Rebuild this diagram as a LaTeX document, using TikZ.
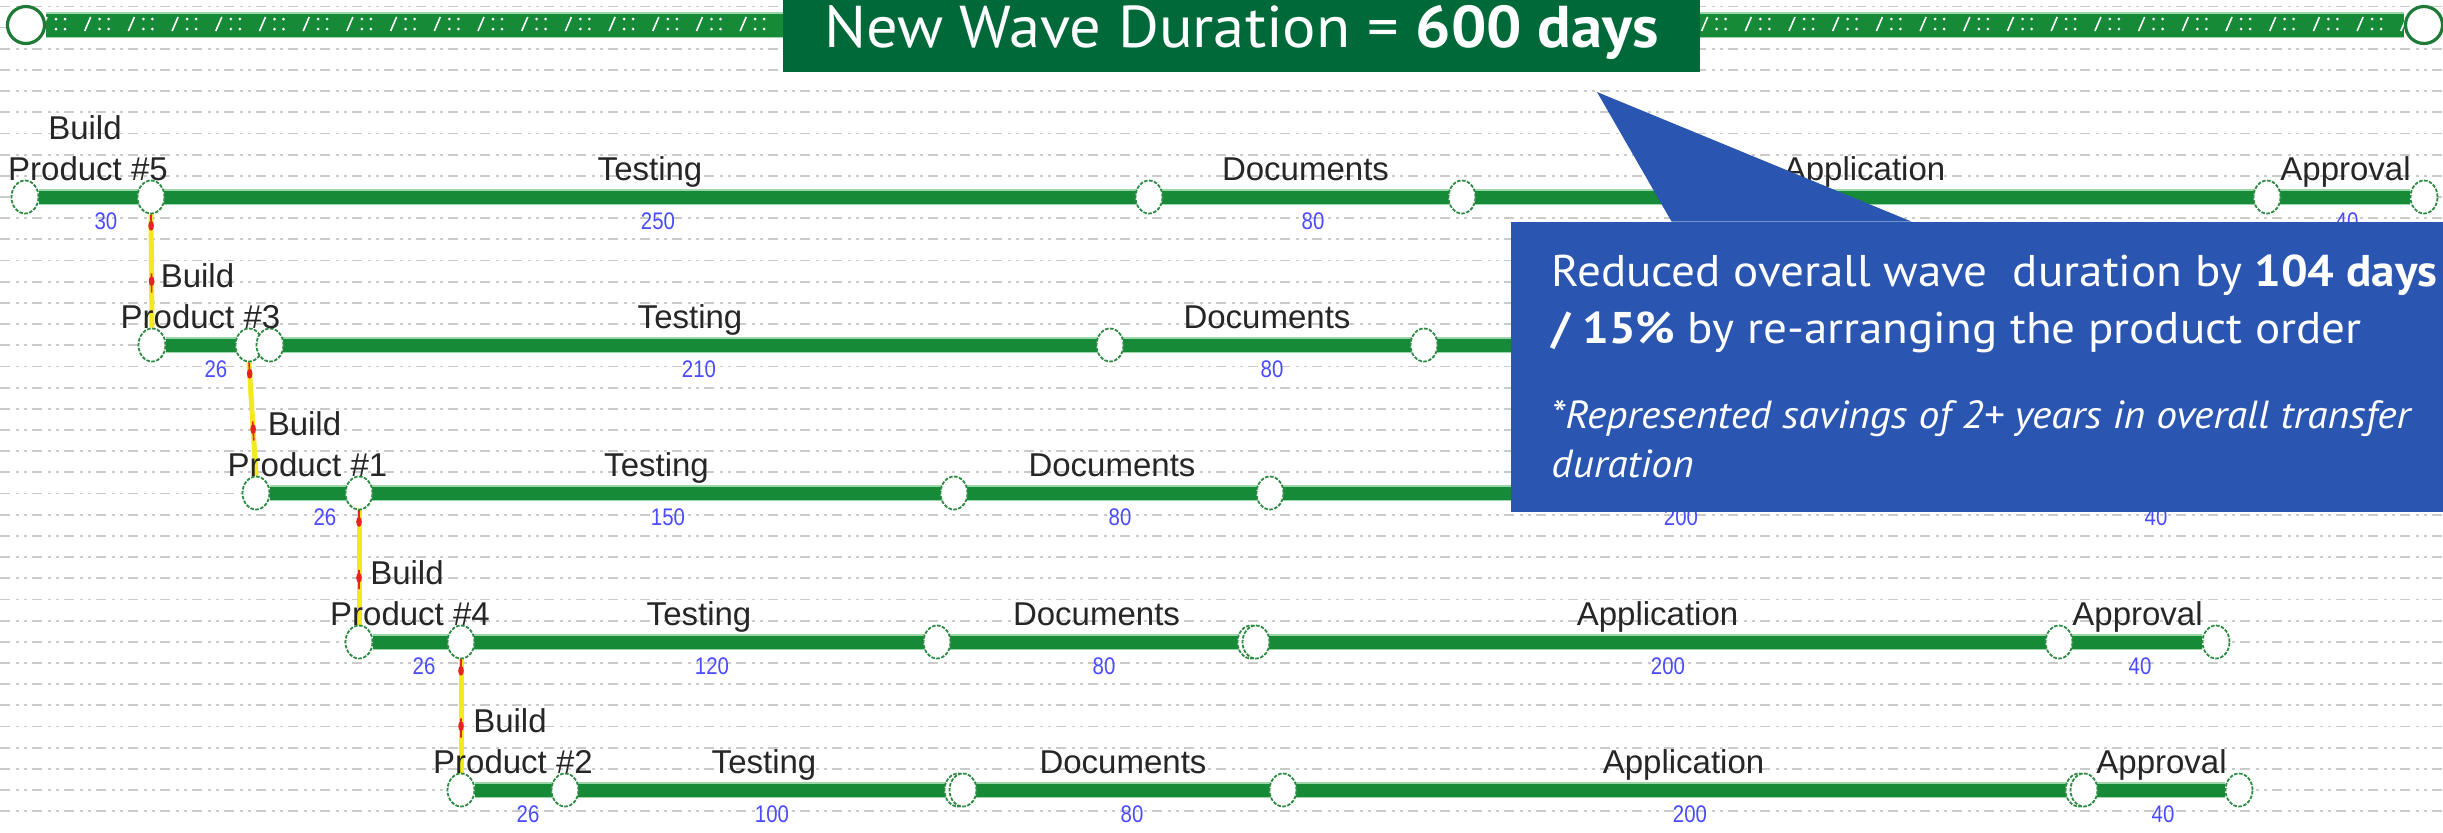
\documentclass[tikz,border=0pt]{standalone}
\usepackage{fontspec}
\usetikzlibrary{shapes.geometric,calc}
\newfontfamily\lblfont{Liberation Sans}
\newfontfamily\numfont[FakeStretch=0.85]{Liberation Sans}
\newfontfamily\calfont[FakeStretch=1.06]{PT Sans}
\definecolor{bargreen}{HTML}{168A37}
\definecolor{baredge}{HTML}{9AD6A8}
\definecolor{milegreen}{HTML}{2E8A45}
\definecolor{endgreen}{HTML}{1E7A36}
\definecolor{titlegreen}{HTML}{00693A}
\definecolor{callblue}{HTML}{2A55B0}
\definecolor{numblue}{HTML}{4B4BFF}
\definecolor{gridgray}{HTML}{CACACA}
\definecolor{linkyellow}{HTML}{F2EA1E}
\definecolor{linkred}{HTML}{E8231C}
\pgfdeclarelayer{grid}
\pgfdeclarelayer{bars}
\pgfdeclarelayer{front}
\pgfsetlayers{grid,bars,main,front}
% build-to-build dependency link between two milestones
\newcommand\prodlink[3]{%
  \draw[linkline] (#1.south) -- (#2.north);
  \draw[redcore] (#1.south) -- ($(#1.south)!.12!(#2.north)$);
  \draw[redcore] ($(#1.south)!.52!(#2.north)$) -- ($(#1.south)!.69!(#2.north)$);
  \path (#1.south) -- (#2.north)
    node[reddot,pos=.10] (#3a) {}
    node[reddot,pos=.59] (#3b) {};
}
\begin{document}
\begin{tikzpicture}[x=0.5pt,y=-0.5pt,
  gridline/.style={draw=gridgray,line width=0.9pt,
    dash pattern=on 5pt off 3pt on 1.5pt off 2.5pt on 1.5pt off 2.5pt},
  taskbar/.style={draw=bargreen,line width=6.5pt},
  taskedge/.style={draw=baredge,line width=7.6pt},
  topbar/.style={draw=bargreen,line width=11.5pt},
  topedge/.style={draw=baredge,line width=12.6pt},
  mile/.style={ellipse,minimum width=13.5pt,minimum height=16.5pt,inner sep=0pt,
    draw=milegreen,line width=0.9pt,dash pattern=on 1.8pt off 0.7pt,fill=white},
  endmile/.style={circle,minimum size=18.5pt,inner sep=0pt,draw=endgreen,
    line width=1.6pt,fill=white},
  lbl/.style={anchor=base,inner sep=0pt,text=black!85,
    font=\lblfont\fontsize{16.5}{20}\selectfont},
  num/.style={inner sep=0pt,text=numblue,font=\numfont\fontsize{12}{14}\selectfont},
  linkline/.style={draw=linkyellow,line width=2.5pt},
  redcore/.style={draw=linkred,line width=0.8pt},
  reddot/.style={ellipse,fill=linkred,minimum width=2.8pt,minimum height=5pt,inner sep=0pt},
  calline/.style={anchor=base west,inner sep=0pt,text=white},
]
\useasboundingbox (0,0) rectangle (2443,832);

% background schedule grid
\begin{pgfonlayer}{grid}
  \fill[white] (0,0) rectangle (2443,832);
  \foreach \k in {0,...,38}
    \draw[gridline] (0,{6.4+21.18*\k}) -- (2443,{6.4+21.18*\k});
\end{pgfonlayer}

% overall wave summary milestones
\node[endmile] (tA) at (26,25) {};
\node[endmile] (tB) at (2424,25) {};

% row 1: product #5
\node[mile] (r1a) at (25,197) {};
\node[mile] (r1b) at (151,197) {};
\node[mile] (r1c) at (1149,197) {};
\node[mile] (r1d) at (1462,197) {};
\node[mile] (r1e) at (2267,197) {};
\node[mile] (r1f) at (2424,197) {};
% row 2: product #3
\node[mile] (r2a) at (152,345) {};
\node[mile] (r2b) at (249,345) {};
\node[mile] (r2c) at (270,345) {};
\node[mile] (r2d) at (1110,345) {};
\node[mile] (r2e) at (1424,345) {};
\node[mile] (r2f) at (2214,345) {};
\node[mile] (r2g) at (2371,345) {};
% row 3: product #1
\node[mile] (r3a) at (256,493) {};
\node[mile] (r3b) at (359,493) {};
\node[mile] (r3c) at (954,493) {};
\node[mile] (r3d) at (1270,493) {};
\node[mile] (r3e) at (2076,493) {};
\node[mile] (r3f) at (2233,493) {};
% row 4: product #4
\node[mile] (r4a) at (359,642) {};
\node[mile] (r4b) at (461,642) {};
\node[mile] (r4c) at (937,642) {};
\node[mile] (r4dd) at (1251,642) {};
\node[mile] (r4d) at (1256,642) {};
\node[mile] (r4e) at (2059,642) {};
\node[mile] (r4f) at (2216,642) {};
% row 5: product #2
\node[mile] (r5a) at (461,790) {};
\node[mile] (r5b) at (565,790) {};
\node[mile] (r5cc) at (958,790) {};
\node[mile] (r5c) at (963,790) {};
\node[mile] (r5d) at (1283,790) {};
\node[mile] (r5ee) at (2079,790) {};
\node[mile] (r5e) at (2084,790) {};
\node[mile] (r5f) at (2239,790) {};

% task bars and links
\begin{pgfonlayer}{bars}
  \draw[topedge] (tA) -- (tB);
  \draw[topbar] (tA) -- (tB);
  \foreach \i in {0,...,54}{
    \pgfmathsetmacro\sx{44+43.7*\i}
    \draw[white,line width=0.8pt] ({\sx-3},31) -- ({\sx+3},17);
    \fill[white] ({\sx+12},19) circle (0.75pt) ({\sx+12},29) circle (0.75pt)
                 ({\sx+21},19) circle (0.75pt) ({\sx+21},29) circle (0.75pt);
  }
  \foreach \a/\b in {r1a/r1f,r2a/r2g,r3a/r3f,r4a/r4f,r5a/r5f}{
    \draw[taskedge] (\a) -- (\b);
    \draw[taskbar] (\a) -- (\b);
  }
  \prodlink{r1b}{r2a}{k1}
  \prodlink{r2b}{r3a}{k2}
  \prodlink{r3b}{r4a}{k3}
  \prodlink{r4b}{r5a}{k4}
\end{pgfonlayer}

% task names
\node[lbl] (b5) at ($(r1a)!.5!(r1b)+(-3,-58)$) {Build};
\node[lbl] (p5) at ($(r1a)!.5!(r1b)+(0,-17)$) {Product \#5};
\node[lbl] (t1) at ($(r1b)!.5!(r1c)+(0,-17)$) {Testing};
\node[lbl] (d1) at ($(r1c)!.5!(r1d)+(0,-17)$) {Documents};
\node[lbl] (a1) at ($(r1d)!.5!(r1e)+(0,-17)$) {Application};
\node[lbl] (v1) at ($(r1e)!.5!(r1f)+(0,-17)$) {Approval};

\node[lbl] (b3) at ($(r2a)!.5!(r2b)+(-3,-58)$) {Build};
\node[lbl] (p3) at ($(r2a)!.5!(r2b)+(0,-17)$) {Product \#3};
\node[lbl] (t2) at ($(r2c)!.5!(r2d)+(0,-17)$) {Testing};
\node[lbl] (d2) at ($(r2d)!.5!(r2e)+(0,-17)$) {Documents};

\node[lbl] (b1) at ($(r3a)!.5!(r3b)+(-3,-58)$) {Build};
\node[lbl] (p1) at ($(r3a)!.5!(r3b)+(0,-17)$) {Product \#1};
\node[lbl] (t3) at ($(r3b)!.5!(r3c)+(0,-17)$) {Testing};
\node[lbl] (d3) at ($(r3c)!.5!(r3d)+(0,-17)$) {Documents};

\node[lbl] (b4) at ($(r4a)!.5!(r4b)+(-3,-58)$) {Build};
\node[lbl] (p4) at ($(r4a)!.5!(r4b)+(0,-17)$) {Product \#4};
\node[lbl] (t4) at ($(r4b)!.5!(r4c)+(0,-17)$) {Testing};
\node[lbl] (d4) at ($(r4c)!.5!(r4d)+(0,-17)$) {Documents};
\node[lbl] (a4) at ($(r4d)!.5!(r4e)+(0,-17)$) {Application};
\node[lbl] (v4) at ($(r4e)!.5!(r4f)+(0,-17)$) {Approval};

\node[lbl] (b2) at ($(r5a)!.5!(r5b)+(-3,-58)$) {Build};
\node[lbl] (p2) at ($(r5a)!.5!(r5b)+(0,-17)$) {Product \#2};
\node[lbl] (t5) at ($(r5b)!.5!(r5c)+(0,-17)$) {Testing};
\node[lbl] (d5) at ($(r5c)!.5!(r5d)+(0,-17)$) {Documents};
\node[lbl] (a5) at ($(r5d)!.5!(r5e)+(0,-17)$) {Application};
\node[lbl] (v5) at ($(r5e)!.5!(r5f)+(0,-17)$) {Approval};

% durations in days
\node[num] (n11) at (106,221) {30};
\node[num] (n12) at (658,221) {250};
\node[num] (n13) at (1313,221) {80};
\node[num] (n15) at (2347,221) {40};
\node[num] (n21) at (216,369) {26};
\node[num] (n22) at (699,369) {210};
\node[num] (n23) at (1272,369) {80};
\node[num] (n31) at (325,517) {26};
\node[num] (n32) at (668,517) {150};
\node[num] (n33) at (1120,517) {80};
\node[num] (n34) at (1681,517) {200};
\node[num] (n35) at (2156,517) {40};
\node[num] (n41) at (424,666) {26};
\node[num] (n42) at (712,666) {120};
\node[num] (n43) at (1104,666) {80};
\node[num] (n44) at (1668,666) {200};
\node[num] (n45) at (2140,666) {40};
\node[num] (n51) at (528,814) {26};
\node[num] (n52) at (772,814) {100};
\node[num] (n53) at (1132,814) {80};
\node[num] (n54) at (1690,814) {200};
\node[num] (n55) at (2163,814) {40};

% headline and call-out
\begin{pgfonlayer}{front}
  \node[fill=titlegreen,text=white,minimum width=458.5pt,minimum height=36pt,
    inner sep=0pt,text height=17.5pt,text depth=6pt,
    font=\calfont\fontsize{29.5}{33}\selectfont] (title) at (1241.5,36)
    {New Wave Duration = \textbf{600 days}};
  \node[fill=callblue,minimum width=466pt,minimum height=145pt,inner sep=0pt]
    (callout) at (1977,367) {};
  \coordinate (ptip) at (1597,92);
  \fill[callblue] (ptip) -- ($(callout.north west)+(161,0)$)
    -- ($(callout.north west)+(401,0)$) -- cycle;
  \node[calline,font=\calfont\fontsize{22.2}{26}\selectfont] (c1) at (1551,286)
    {Reduced overall wave\ \ duration by \textbf{104 days}};
  \node[calline,font=\calfont\fontsize{22.2}{26}\selectfont] (c2) at (1551,343)
    {\textbf{/ 15\%} by re-arranging the product order};
  \node[calline,font=\calfont\itshape\fontsize{19.6}{24}\selectfont] (c3) at (1551,428)
    {*Represented savings of 2+ years in overall transfer};
  \node[calline,font=\calfont\itshape\fontsize{19.6}{24}\selectfont] (c4) at (1551,477)
    {duration};
\end{pgfonlayer}
\end{tikzpicture}
\end{document}
